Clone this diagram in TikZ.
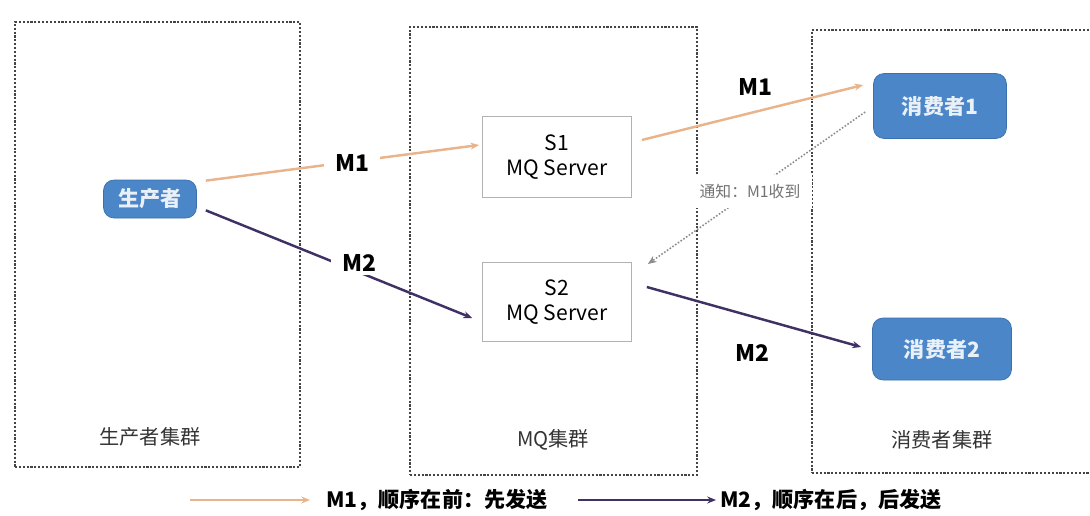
\documentclass[tikz,border=0pt]{standalone}
\usepackage{fontspec}
\setmainfont{Noto Sans CJK SC}
\usepackage{xcolor}
\usepackage{tikz}
\usetikzlibrary{arrows.meta}
\definecolor{nodeblue}{HTML}{4A86C8}
\definecolor{nodeedge}{HTML}{3A70AE}
\definecolor{firstorange}{HTML}{E9B48C}
\definecolor{secondpurple}{HTML}{3F3163}
\definecolor{groupgray}{HTML}{444444}

\begin{document}
\begin{tikzpicture}[x=0.02cm, y=-0.02cm,
    group/.style={draw=groupgray, densely dotted, line width=1.2pt, inner sep=0pt},
    grouplabel/.style={font=\fontsize{11.5}{13}\selectfont, text=black!80},
    actor/.style={draw=nodeedge, fill=nodeblue, rounded corners=6pt, text=white!88!nodeblue,
                  font=\fontsize{12}{14}\selectfont\bfseries, inner sep=0pt},
    server/.style={draw=black!30, fill=white, minimum width=2.98cm, align=center,
                   font=\large, inner sep=0pt},
    msg/.style={font=\fontsize{13}{15}\selectfont\bfseries, fill=white, inner xsep=6pt, inner ysep=2pt},
    m1line/.style={-{Stealth[length=5pt,width=4pt]}, line width=1.4pt, firstorange},
    m2line/.style={-{Stealth[length=5pt,width=4pt]}, line width=1.4pt, secondpurple},
    ackline/.style={-{Stealth[length=5pt,width=4pt]}, densely dotted, line width=0.9pt, black!45}
]
\useasboundingbox (0,0) rectangle (1090,515);

% clusters
\node[group, minimum width=5.7cm, minimum height=8.9cm] (lbox) at (157.5,244.5) {};
\node[group, minimum width=5.74cm, minimum height=8.96cm] (mbox) at (553.5,251) {};
\node[group, minimum width=5.76cm, minimum height=8.86cm] (rbox) at (956,251.5) {};
\node[grouplabel] (lname) at (150,437) {生产者集群};
\node[grouplabel] (mname) at (553,440) {MQ集群};
\node[grouplabel] (rname) at (942,440) {消费者集群};

% nodes
\node[actor, minimum width=1.86cm, minimum height=0.76cm] (prod) at (150,199) {生产者};
\node[server, minimum height=1.62cm] (s1) at (557,157) {S1\\MQ Server};
\node[server, minimum height=1.58cm] (s2) at (557,302) {S2\\MQ Server};
\node[actor, minimum width=2.66cm, minimum height=1.3cm] (cons1) at (940,106) {消费者1};
\node[actor, minimum width=2.78cm, minimum height=1.24cm] (cons2) at (942,349) {消费者2};

% messages
\draw[m1line] ([shift={(9,1)}]prod.north east) -- ([shift={(-3,-12)}]s1.west);
\draw[m2line] ([shift={(9,-8)}]prod.south east) -- ([shift={(-10,16)}]s2.west);
\draw[m1line] ([shift={(10,-17)}]s1.east) -- ([shift={(-10,-21)}]cons1.west);
\draw[m2line] ([shift={(15,-15)}]s2.east) -- ([shift={(-11,-2)}]cons2.west);
\draw[ackline] ([shift={(-8,6)}]cons1.west) -- ([shift={(16,-38)}]s2.east);

\node[msg] (m1a) at (352,163) {M1};
\node[msg] (m2a) at (359,263) {M2};
\node[msg] (m1b) at (755,87) {M1};
\node[msg] (m2b) at (752,353) {M2};
\node[fill=white, font=\fontsize{9}{11}\selectfont, text=black!55, minimum width=2.5cm,
      minimum height=0.66cm, inner sep=0pt] (ack) at (750,191) {通知：M1收到};

% legend
\coordinate (leg1) at (190,500);
\coordinate (leg2) at (578,500);
\node[font=\large\bfseries, anchor=west, inner sep=0pt] (txt1) at (326,500) {M1，顺序在前：先发送};
\node[font=\large\bfseries, anchor=west, inner sep=0pt] (txt2) at (720,500) {M2，顺序在后，后发送};
\draw[m1line] (leg1) -- ([shift={(-16,0)}]txt1.west);
\draw[m2line] (leg2) -- ([shift={(-4,0)}]txt2.west);
\end{tikzpicture}
\end{document}
